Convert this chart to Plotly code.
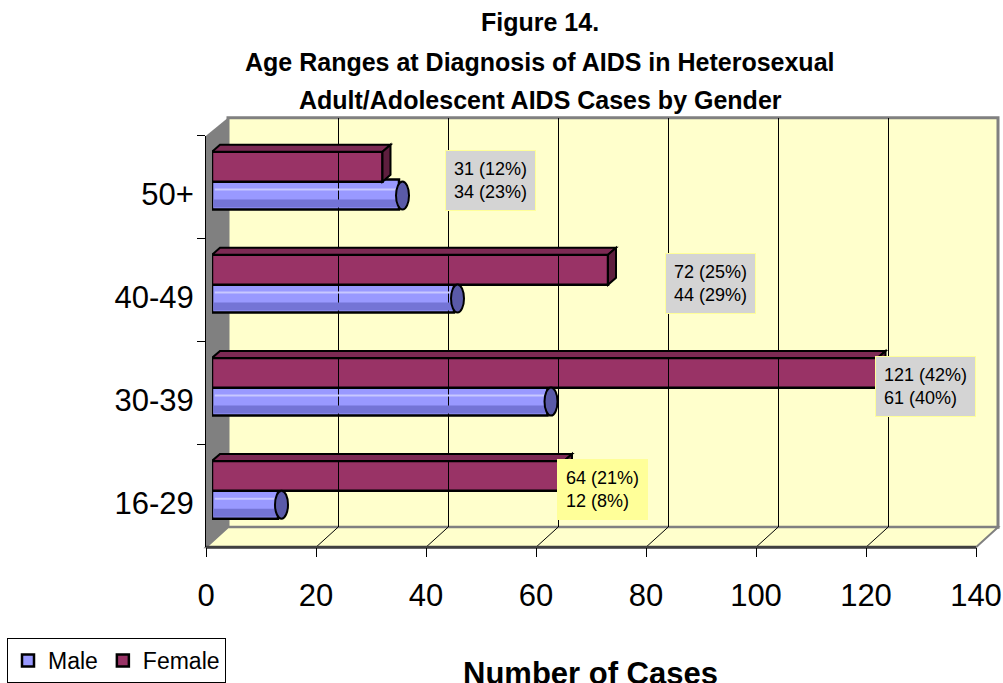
import plotly.graph_objects as go

# ---------------- data ----------------
categories = ["16-29", "30-39", "40-49", "50+"]
male = [12, 61, 44, 34]
female = [64, 121, 72, 31]
male_pct = [8, 40, 29, 23]
female_pct = [21, 42, 25, 12]
label_x = [62.7, 120.5, 82.4, 42.4]          # left edge of each data-label box (value units)
label_bg = ["#ffff99", "#d4d4d4", "#d4d4d4", "#d4d4d4"]
x_ticks = [0, 20, 40, 60, 80, 100, 120, 140]
grid_vals = [20, 40, 60, 80, 100, 120]
title_lines = ["Figure 14.",
               "Age Ranges at Diagnosis of AIDS in Heterosexual",
               "Adult/Adolescent AIDS Cases by Gender"]
x_title = "Number of Cases"

# ---------------- geometry (pixels) ----------------
W, H = 1003, 683
def fx(p): return p / W
def fy(p): return 1 - p / H

FRONT_X0, FRONT_X1 = 206, 976
BACK_X0, BACK_X1 = 228, 998
FRONT_TOP, FRONT_BOT = 136, 548
BACK_TOP, BACK_BOT = 118, 528
BAR_X0, BAR_X1 = 212, 982
BAR_Y_TOP, BAR_Y_BOT = 129.3, 542.1
XMAX = 140

BW = 0.29
F_OFF, M_OFF = -0.01, -0.28
cat_px = (BAR_Y_BOT - BAR_Y_TOP) / len(categories)
bar_h = BW * cat_px
unit_per_px = XMAX / (BAR_X1 - BAR_X0)
DEP_X, DEP_Y = 8, 7
dd = DEP_X * unit_per_px

FONT = "Liberation Sans, Arial, sans-serif"
MAROON = "#993366"

fig = go.Figure()

fig.add_trace(go.Bar(
    name="Male", y=categories, x=male, orientation="h",
    width=BW, offset=M_OFF,
    marker=dict(color="#9999ff", line=dict(color="#000000", width=2.5)),
    xaxis="x", yaxis="y", hoverinfo="x+y",
))
fig.add_trace(go.Bar(
    name="Female", y=categories, x=female, orientation="h",
    width=BW, offset=F_OFF,
    marker=dict(color=MAROON, line=dict(color="#000000", width=2.5)),
    xaxis="x", yaxis="y", hoverinfo="x+y",
))
# invisible carriers so the front (labelled) axes and back-wall axes exist
fig.add_trace(go.Scatter(
    x=[0] * len(categories), y=categories, xaxis="x2", yaxis="y2",
    mode="markers", marker=dict(opacity=0, size=1), showlegend=False, hoverinfo="skip",
))
fig.add_trace(go.Scatter(
    x=[0, XMAX], y=[0, 1], xaxis="x3", yaxis="y3",
    mode="markers", marker=dict(opacity=0, size=1), showlegend=False, hoverinfo="skip",
))

shapes = []
# back wall
shapes.append(dict(type="rect", xref="paper", yref="paper", layer="below",
                   x0=fx(BACK_X0), x1=fx(BACK_X1), y0=fy(BACK_BOT), y1=fy(BACK_TOP),
                   fillcolor="#ffffcc", line=dict(color="#808080", width=3)))
# left wall
shapes.append(dict(type="path", xref="paper", yref="paper", layer="below",
                   path=f"M{fx(FRONT_X0)},{fy(FRONT_TOP)} L{fx(BACK_X0)},{fy(BACK_TOP)} "
                        f"L{fx(BACK_X0)},{fy(BACK_BOT)} L{fx(FRONT_X0)},{fy(FRONT_BOT)} Z",
                   fillcolor="#808080", line=dict(width=0)))
# floor
shapes.append(dict(type="path", xref="paper", yref="paper", layer="below",
                   path=f"M{fx(FRONT_X0)},{fy(FRONT_BOT)} L{fx(BACK_X0)},{fy(BACK_BOT)} "
                        f"L{fx(BACK_X1)},{fy(BACK_BOT)} L{fx(FRONT_X1)},{fy(FRONT_BOT)} Z",
                   fillcolor="#ffffcc", line=dict(color="#808080", width=2)))
# floor grid diagonals
for v in grid_vals:
    shapes.append(dict(type="line", xref="x3", xsizemode="pixel", xanchor=v,
                       x0=0, x1=-(BACK_X0 - FRONT_X0), yref="paper",
                       y0=fy(BACK_BOT), y1=fy(FRONT_BOT), layer="below",
                       line=dict(color="#000000", width=1)))
# front floor edge
shapes.append(dict(type="line", xref="paper", yref="paper", layer="below",
                   x0=fx(FRONT_X0), x1=fx(FRONT_X1), y0=fy(FRONT_BOT), y1=fy(FRONT_BOT),
                   line=dict(color="#404040", width=3)))

# 3D faces for female boxes and male cylinders
for i, (m, f) in enumerate(zip(male, female)):
    ftop = i + F_OFF + BW
    shapes.append(dict(type="path", xref="x", yref="y", ysizemode="pixel", yanchor=ftop,
                       path=f"M0,0 L{dd},{DEP_Y} L{f + dd},{DEP_Y} L{f},0 Z",
                       fillcolor="#7d2a54", line=dict(color="#000000", width=2)))
    shapes.append(dict(type="path", xref="x", yref="y", ysizemode="pixel", yanchor=ftop,
                       path=f"M{f},0 L{f + dd},{DEP_Y} L{f + dd},{DEP_Y - bar_h} L{f},{-bar_h} Z",
                       fillcolor="#5e1e3e", line=dict(color="#000000", width=2)))
    mbot = i + M_OFF
    shapes.append(dict(type="rect", xref="x", yref="y", ysizemode="pixel", yanchor=mbot,
                       x0=0.3, x1=m - 0.3, y0=2, y1=10,
                       fillcolor="#7474d6", line=dict(width=0)))
    shapes.append(dict(type="line", xref="x", yref="y", ysizemode="pixel", yanchor=mbot,
                       x0=0.5, x1=m - 0.5, y0=20, y1=20,
                       line=dict(color="#c8c8ff", width=2)))
    shapes.append(dict(type="circle", xref="x", yref="y", xsizemode="pixel", xanchor=m,
                       ysizemode="pixel", yanchor=mbot, x0=-3, x1=10, y0=0, y1=28,
                       fillcolor="#5a5aa8", line=dict(color="#000000", width=2)))

annotations = []
for k, (t, yy) in enumerate(zip(title_lines, [22, 62, 100])):
    annotations.append(dict(text=f"<b>{t}</b>", xref="paper", yref="paper",
                            x=fx(540), y=fy(yy), xanchor="center", yanchor="middle",
                            showarrow=False, font=dict(family=FONT, size=25, color="#000")))
annotations.append(dict(text=f"<b>{x_title}</b>", xref="paper", yref="paper",
                        x=fx(590), y=fy(655), xanchor="center", yanchor="top",
                        showarrow=False, font=dict(family=FONT, size=31, color="#000")))
for i, c in enumerate(categories):
    annotations.append(dict(
        text=f"{female[i]} ({female_pct[i]}%)<br>{male[i]} ({male_pct[i]}%)",
        xref="x", yref="y", x=label_x[i], y=c, xanchor="left", yanchor="middle",
        align="left", showarrow=False, bgcolor=label_bg[i], bordercolor="#ffff99",
        borderwidth=1, borderpad=8, font=dict(family=FONT, size=18, color="#000")))

fig.update_layout(
    template="none",
    width=W, height=H, autosize=False, margin=dict(l=0, r=0, t=0, b=0, pad=0),
    paper_bgcolor="#ffffff", plot_bgcolor="rgba(0,0,0,0)",
    barmode="overlay", font=dict(family=FONT, color="#000"),
    showlegend=True,
    legend=dict(orientation="h", x=fx(7), xanchor="left", y=fy(639), yanchor="top",
                bordercolor="#000000", borderwidth=1, bgcolor="#ffffff",
                font=dict(family=FONT, size=23, color="#000"), traceorder="normal"),
    xaxis=dict(domain=[fx(BAR_X0), fx(BAR_X1)], range=[0, XMAX], visible=False,
               anchor="y", automargin=False),
    yaxis=dict(domain=[fy(BAR_Y_BOT), fy(BAR_Y_TOP)], type="category",
               categoryorder="array", categoryarray=categories,
               range=[-0.5, len(categories) - 0.5], visible=False, anchor="x",
               automargin=False),
    xaxis2=dict(domain=[fx(FRONT_X0), fx(FRONT_X1)], range=[0, XMAX], anchor="y2",
                tickmode="array", tickvals=x_ticks, ticks="outside", ticklen=9,
                tickwidth=1, tickcolor="#000", showline=False, showgrid=False,
                zeroline=False, automargin=False, ticklabelstandoff=12,
                tickfont=dict(family=FONT, size=31, color="#000")),
    yaxis2=dict(domain=[fy(FRONT_BOT), fy(FRONT_TOP)], type="category",
                categoryorder="array", categoryarray=categories,
                range=[-0.5, len(categories) - 0.5], anchor="x2",
                tickson="boundaries", ticks="outside", ticklen=8, tickwidth=1,
                tickcolor="#000", showline=True, linecolor="#000", linewidth=1,
                showgrid=False, zeroline=False, automargin=False,
                ticklabelshift=7, ticklabelstandoff=5,
                tickfont=dict(family=FONT, size=31, color="#000")),
    xaxis3=dict(domain=[fx(BACK_X0), fx(BACK_X1)], range=[0, XMAX], anchor="y3",
                tickmode="array", tickvals=grid_vals, showgrid=True, gridcolor="#000",
                gridwidth=1, showticklabels=False, ticks="", zeroline=False,
                showline=False, automargin=False),
    yaxis3=dict(domain=[fy(BACK_BOT), fy(BACK_TOP)], range=[0, 1], anchor="x3",
                showgrid=False, showticklabels=False, ticks="", zeroline=False,
                showline=False, automargin=False),
    shapes=shapes, annotations=annotations,
)

fig.write_html("out.html", config={"displayModeBar": False},
               post_script="document.body.style.margin='0px';")
